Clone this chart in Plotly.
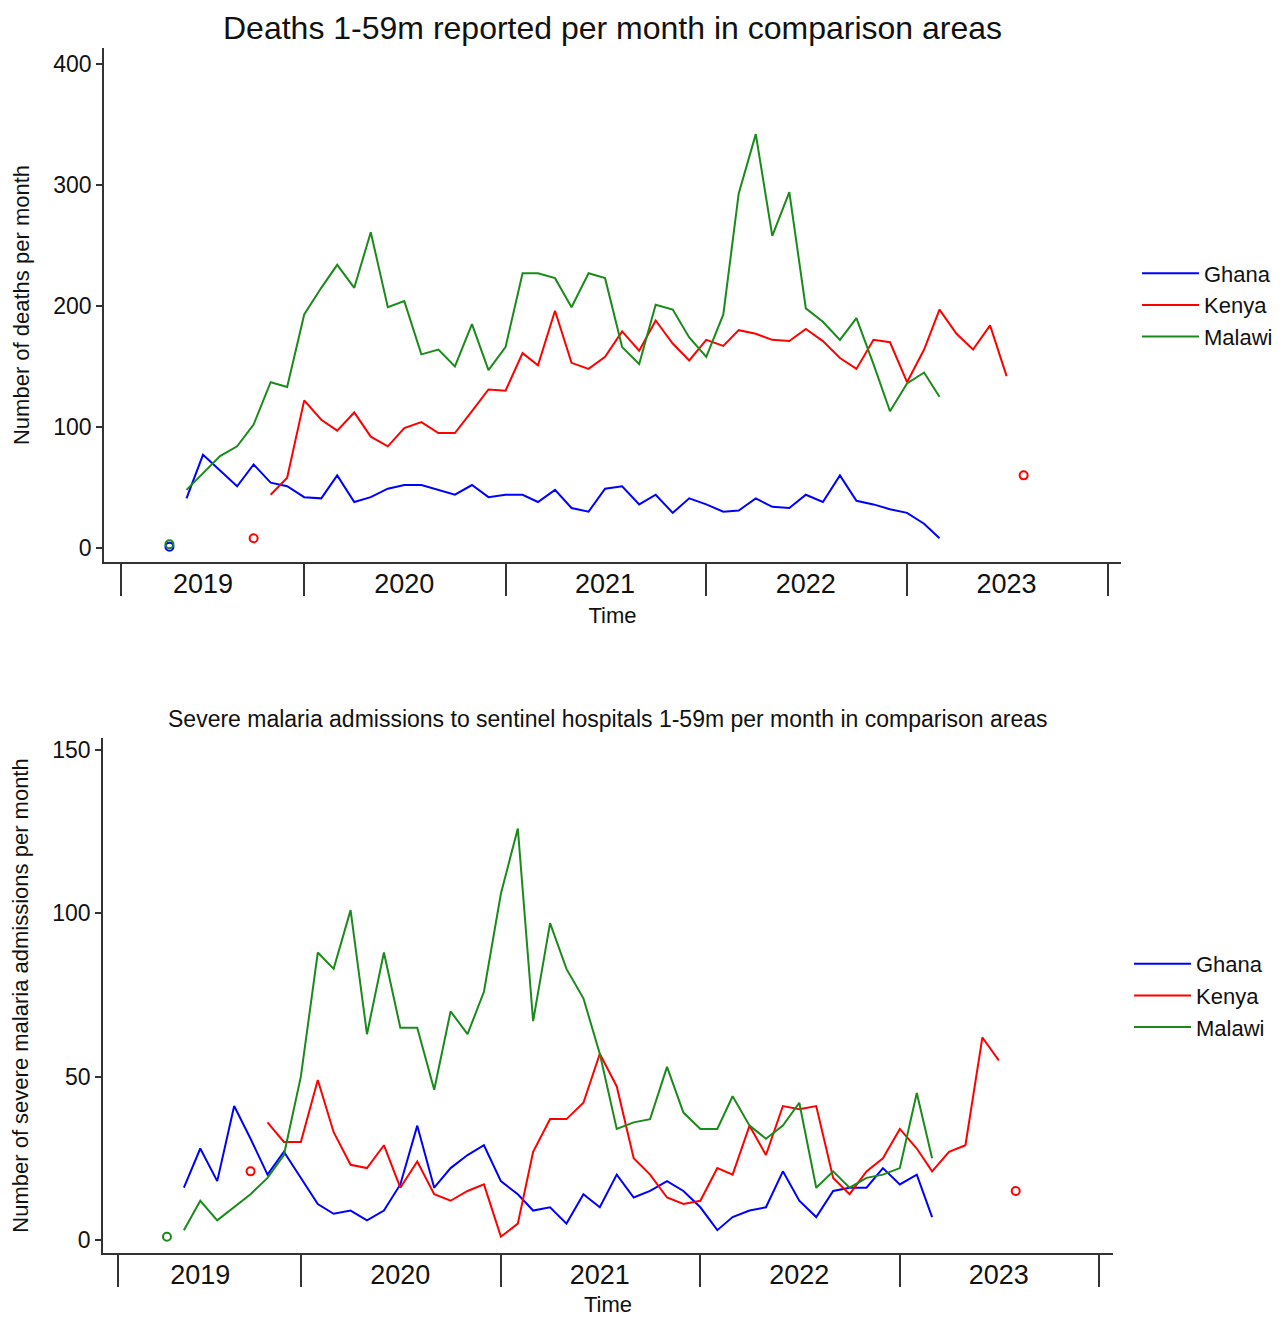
import pandas as pd
import plotly.graph_objects as go

# page body has an 8px margin; the figure is sized/positioned to compensate
OFF = 8
W, H = 1283 - OFF, 1317 - OFF
FONT = "Liberation Sans, Arial, sans-serif"
colors = {"Ghana": "#0000ff", "Kenya": "#ff0000", "Malawi": "#1a8a1a"}
countries = ["Ghana", "Kenya", "Malawi"]

# ---------------- Top chart: deaths 1-59m per month ----------------
deaths_ghana_start = "2019-06-01"
deaths_ghana = [41, 77, 64, 51, 69, 54, 51, 42, 41, 60, 38, 42, 49, 52, 52, 48,
                44, 52, 42, 44, 44, 38, 48, 33, 30, 49, 51, 36, 44, 29, 41, 36,
                30, 31, 41, 34, 33, 44, 38, 60, 39, 36, 32, 29, 20, 8]
deaths_kenya_start = "2019-11-01"
deaths_kenya = [44, 58, 122, 106, 97, 112, 92, 84, 99, 104, 95, 95, 113, 131, 130,
                161, 151, 196, 153, 148, 158, 179, 163, 188, 169, 155, 172, 167,
                180, 177, 172, 171, 181, 171, 157, 148, 172, 170, 137, 164, 197,
                177, 164, 184, 142]
deaths_malawi_start = "2019-06-01"
deaths_malawi = [48, 62, 76, 84, 102, 137, 133, 193, 215, 234, 215, 261, 199, 204,
                 160, 164, 150, 185, 147, 166, 227, 227, 223, 199, 227, 223, 166,
                 152, 201, 197, 174, 158, 193, 293, 342, 258, 294, 198, 187, 172,
                 190, 152, 113, 136, 145, 125]
deaths_point_countries = ["Ghana", "Malawi", "Kenya", "Kenya"]
deaths_point_months = ["2019-05-01", "2019-05-01", "2019-10-01", "2023-08-01"]
deaths_point_values = [1, 3, 8, 60]

# ---------------- Bottom chart: severe malaria admissions ----------------
adm_ghana_start = "2019-06-01"
adm_ghana = [16, 28, 18, 41, 31, 20, 27, 19, 11, 8, 9, 6, 9, 17, 35, 16, 22, 26,
             29, 18, 14, 9, 10, 5, 14, 10, 20, 13, 15, 18, 15, 10, 3, 7, 9, 10,
             21, 12, 7, 15, 16, 16, 22, 17, 20, 7]
adm_kenya_start = "2019-11-01"
adm_kenya = [36, 30, 30, 49, 33, 23, 22, 29, 16, 24, 14, 12, 15, 17, 1, 5, 27, 37,
             37, 42, 57, 47, 25, 20, 13, 11, 12, 22, 20, 35, 26, 41, 40, 41, 19,
             14, 21, 25, 34, 28, 21, 27, 29, 62, 55]
adm_malawi_start = "2019-06-01"
adm_malawi = [3, 12, 6, 10, 14, 19, 26, 50, 88, 83, 101, 63, 88, 65, 65, 46, 70,
              63, 76, 106, 126, 67, 97, 83, 74, 57, 34, 36, 37, 53, 39, 34, 34,
              44, 35, 31, 35, 42, 16, 21, 16, 19, 20, 22, 45, 25]
adm_point_countries = ["Malawi", "Kenya", "Kenya"]
adm_point_months = ["2019-05-01", "2019-10-01", "2023-08-01"]
adm_point_values = [1, 21, 15]

# axis labels
year_labels = ["2019", "2020", "2021", "2022", "2023"]
year_mid = ["2019-07-01", "2020-07-01", "2021-07-01", "2022-07-01", "2023-07-01"]
year_bounds = ["2019-02-01", "2020-01-01", "2021-01-01", "2022-01-01",
               "2023-01-01", "2024-01-01"]
top_yticks = [0, 100, 200, 300, 400]
bot_yticks = [0, 50, 100, 150]

top_title = "Deaths 1-59m reported per month in comparison areas"
bot_title = "Severe malaria admissions to sentinel hospitals 1-59m per month in comparison areas"


def months(start, n):
    return pd.date_range(start, periods=n, freq="MS").strftime("%Y-%m-%d").tolist()


def px(xp):
    return (xp - OFF) / W


def py(yp):
    return 1 - (yp - OFF) / H


fig = go.Figure()

top_series = {"Ghana": (deaths_ghana_start, deaths_ghana),
              "Kenya": (deaths_kenya_start, deaths_kenya),
              "Malawi": (deaths_malawi_start, deaths_malawi)}
bot_series = {"Ghana": (adm_ghana_start, adm_ghana),
              "Kenya": (adm_kenya_start, adm_kenya),
              "Malawi": (adm_malawi_start, adm_malawi)}

for c in countries:
    s, v = top_series[c]
    fig.add_trace(go.Scatter(x=months(s, len(v)), y=v, mode="lines", name=c,
                             line=dict(color=colors[c], width=2),
                             xaxis="x", yaxis="y", legend="legend"))
for c, m, v in zip(deaths_point_countries, deaths_point_months, deaths_point_values):
    fig.add_trace(go.Scatter(x=[m], y=[v], mode="markers", showlegend=False,
                             marker=dict(symbol="circle-open", size=8,
                                         color=colors[c], line=dict(width=2, color=colors[c])),
                             xaxis="x", yaxis="y"))

for c in countries:
    s, v = bot_series[c]
    fig.add_trace(go.Scatter(x=months(s, len(v)), y=v, mode="lines", name=c,
                             line=dict(color=colors[c], width=2),
                             xaxis="x2", yaxis="y2", legend="legend2"))
for c, m, v in zip(adm_point_countries, adm_point_months, adm_point_values):
    fig.add_trace(go.Scatter(x=[m], y=[v], mode="markers", showlegend=False,
                             marker=dict(symbol="circle-open", size=8,
                                         color=colors[c], line=dict(width=2, color=colors[c])),
                             xaxis="x2", yaxis="y2"))

axcol = "#333333"


def xaxis_cfg(domain, rng, anchor):
    return dict(domain=domain, range=rng, anchor=anchor, type="date",
                showline=True, linecolor=axcol, linewidth=1.5, showgrid=False,
                zeroline=False, ticks="", tickmode="array", tickvals=year_mid,
                ticktext=year_labels, tickfont=dict(size=27, color="#111", family=FONT),
                ticklabelstandoff=-3,
                minor=dict(tickmode="array", tickvals=year_bounds, ticks="outside",
                           ticklen=32, tickcolor=axcol, tickwidth=1.5, showgrid=False),
                title=dict(text="Time", font=dict(size=22, color="#111", family=FONT),
                           standoff=9),
                automargin=False)


def yaxis_cfg(domain, rng, anchor, ticks, title):
    return dict(domain=domain, range=rng, anchor=anchor, showline=True,
                linecolor=axcol, linewidth=1.5, showgrid=False, zeroline=False,
                ticks="outside", ticklen=6, tickcolor=axcol, tickwidth=1.5,
                tickmode="array", tickvals=ticks,
                tickfont=dict(size=23, color="#111", family=FONT),
                title=dict(text=title, font=dict(size=22, color="#111", family=FONT),
                           standoff=18),
                automargin=False)


top_xd = [px(104), px(1121)]
top_yd = [py(562), py(48)]
bot_xd = [px(103), px(1113)]
bot_yd = [py(1253), py(738)]

fig.update_layout(
    width=W, height=H, margin=dict(l=0, r=0, t=0, b=0),
    paper_bgcolor="white", plot_bgcolor="white",
    font=dict(family=FONT, color="#111"),
    xaxis=xaxis_cfg(top_xd, ["2019-01-02", "2024-01-25"], "y"),
    yaxis=yaxis_cfg(top_yd, [-11.6, 413.2], "x", top_yticks, "Number of deaths per month"),
    xaxis2=xaxis_cfg(bot_xd, ["2019-01-04", "2024-01-26"], "y2"),
    yaxis2=yaxis_cfg(bot_yd, [-4, 153.7], "x2", bot_yticks,
                     "Number of severe malaria admissions per month"),
    legend=dict(x=px(1137), y=(top_yd[0] + top_yd[1]) / 2, xanchor="left", yanchor="middle",
                font=dict(size=22, family=FONT, color="#111"), itemwidth=57,
                bgcolor="rgba(0,0,0,0)", tracegroupgap=0),
    legend2=dict(x=px(1129), y=(bot_yd[0] + bot_yd[1]) / 2, xanchor="left", yanchor="middle",
                 font=dict(size=22, family=FONT, color="#111"), itemwidth=57,
                 bgcolor="rgba(0,0,0,0)", tracegroupgap=0),
    annotations=[
        dict(text=top_title, x=(top_xd[0] + top_xd[1]) / 2, y=py(28), xref="paper",
             yref="paper", showarrow=False, font=dict(size=32, family=FONT, color="#111"),
             xanchor="center", yanchor="middle"),
        dict(text=bot_title, x=(bot_xd[0] + bot_xd[1]) / 2, y=py(719), xref="paper",
             yref="paper", showarrow=False, font=dict(size=23, family=FONT, color="#111"),
             xanchor="center", yanchor="middle"),
    ],
)

fig.write_html("out.html")
